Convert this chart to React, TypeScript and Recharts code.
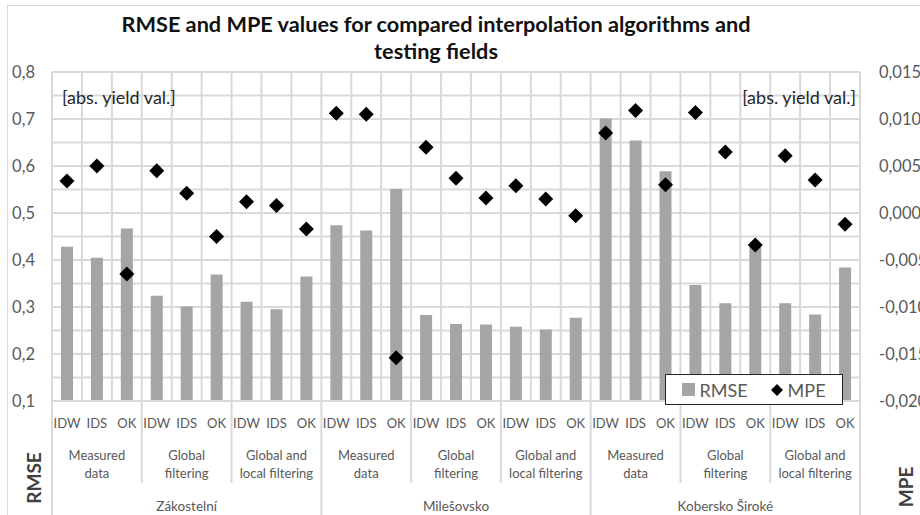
import React from 'react'
import { ComposedChart, Bar, Line, XAxis, YAxis, CartesianGrid, Legend } from 'recharts'

const fields = ['Zákostelní', 'Milešovsko', 'Kobersko Široké']
const filters = [['Measured', 'data'], ['Global', 'filtering'], ['Global and', 'local filtering']]
const methods = ['IDW', 'IDS', 'OK']

const rmse = [
  0.428, 0.405, 0.467, 0.324, 0.301, 0.369, 0.311, 0.295, 0.365,
  0.474, 0.463, 0.551, 0.283, 0.264, 0.263, 0.258, 0.252, 0.277,
  0.701, 0.654, 0.589, 0.347, 0.308, 0.428, 0.308, 0.284, 0.384,
]
const mpe = [
  0.0034, 0.005, -0.0065, 0.0045, 0.0021, -0.0025, 0.0012, 0.0008, -0.0017,
  0.0106, 0.0105, -0.0154, 0.007, 0.0037, 0.0016, 0.0029, 0.0015, -0.0003,
  0.0085, 0.0109, 0.003, 0.0107, 0.0065, -0.0034, 0.0061, 0.0035, -0.0012,
]

// labelled every 0.1, gridlines every 0.05
const rmseTicks = [0.1, 0.15, 0.2, 0.25, 0.3, 0.35, 0.4, 0.45, 0.5, 0.55, 0.6, 0.65, 0.7, 0.75, 0.8]
const mpeTicks = [-0.02, -0.015, -0.01, -0.005, 0, 0.005, 0.01, 0.015]

const data = rmse.map((r, i) => ({
  method: methods[i % 3],
  filter: filters[Math.floor(i / 3) % 3].join(' '),
  field: fields[Math.floor(i / 9)],
  rmse: r,
  mpe: mpe[i],
}))

const W = 920
const H = 515
const PLOT_W = 808
const STEP = PLOT_W / data.length
const FONT = 'Lato, "Open Sans", sans-serif'
const GRID = '#d9d9d9'
const TXT = '#595959'

const MethodTick = (props: any) => {
  const { x, y, index, payload } = props
  const half = STEP / 2
  return (
    <g>
      <text x={x} y={y + 27} textAnchor="middle" fontSize={13} fill={TXT} fontFamily={FONT}>{payload.value}</text>
      {index % 3 === 0 && (
        <line x1={x - half} x2={x - half} y1={y} y2={index % 9 === 0 ? H : y + 82} stroke={GRID} strokeWidth={2} />
      )}
      {index === data.length - 1 && <line x1={x + half} x2={x + half} y1={y} y2={H} stroke={GRID} strokeWidth={2} />}
    </g>
  )
}

const FilterTick = (props: any) => {
  const { x, y, index } = props
  if (index % 3 !== 1) return null
  const lines = filters[Math.floor(index / 3) % 3]
  return (
    <g>
      <text x={x} y={y + 24.5} textAnchor="middle" fontSize={13} fill={TXT} fontFamily={FONT}>{lines[0]}</text>
      <text x={x} y={y + 42.5} textAnchor="middle" fontSize={13} fill={TXT} fontFamily={FONT}>{lines[1]}</text>
    </g>
  )
}

const FieldTick = (props: any) => {
  const { x, y, index, payload } = props
  if (index % 9 !== 4) return null
  return <text x={x} y={y + 28} textAnchor="middle" fontSize={13.5} fill={TXT} fontFamily={FONT}>{payload.value}</text>
}

const Diamond = (props: any) => {
  const { cx, cy, index } = props
  if (cx == null || cy == null) return <g key={index} />
  const r = 7.5
  return <polygon key={index} points={`${cx},${cy - r} ${cx + r},${cy} ${cx},${cy + r} ${cx - r},${cy}`} fill="#000" />
}

const LegendBox = () => (
  <div style={{
    boxSizing: 'border-box', width: 178, height: 31, border: '1.5px solid #262626', background: '#fff',
    display: 'flex', alignItems: 'center', justifyContent: 'center', fontFamily: FONT, fontSize: 18, color: TXT,
  }}>
    <span style={{ display: 'inline-block', width: 13, height: 13, background: '#a5a5a5', marginRight: 4 }} />
    <span>RMSE</span>
    <svg width={14} height={14} style={{ marginLeft: 22, marginRight: 4 }}>
      <polygon points="7,1 13,7 7,13 1,7" fill="#000" />
    </svg>
    <span>MPE</span>
  </div>
)

const isMajor = (v: number) => Math.round(v * 100) % 10 === 0
const noLine = { stroke: 'none' }

export default function App() {
  return (
    <div style={{ position: 'absolute', left: 0, top: 0, width: W, height: H, background: '#fff', overflow: 'hidden' }}>
      <ComposedChart width={W} height={H} data={data} margin={{ top: 72, right: 0, bottom: 0, left: 8 }}>
        <CartesianGrid
          stroke={GRID}
          strokeWidth={2}
          yAxisId="rmse"
          verticalCoordinatesGenerator={({ offset }: any) =>
            data.map((_, i) => offset.left + (i * offset.width) / data.length).concat([offset.left + offset.width])
          }
        />
        <XAxis dataKey="method" interval={0} height={34} tickSize={0} tickMargin={0} axisLine={{ stroke: GRID, strokeWidth: 2 }} tickLine={false} tick={<MethodTick />} />
        <XAxis xAxisId="x2" dataKey="filter" interval={0} height={48} tickSize={0} tickMargin={0} axisLine={noLine} tickLine={false} tick={<FilterTick />} />
        <XAxis xAxisId="x3" dataKey="field" interval={0} height={32} tickSize={0} tickMargin={0} axisLine={noLine} tickLine={false} tick={<FieldTick />} />
        <YAxis
          yAxisId="rmse"
          domain={[0.1, 0.8]}
          ticks={rmseTicks}
          interval={0}
          width={44}
          tickSize={0}
          tickMargin={17}
          axisLine={false}
          tickLine={false}
          tick={{ fill: TXT, fontSize: 16.5, fontFamily: FONT }}
          tickFormatter={(v: number) => (isMajor(v) ? v.toFixed(1).replace('.', ',') : '')}
        />
        <YAxis
          yAxisId="mpe"
          orientation="right"
          domain={[-0.02, 0.015]}
          ticks={mpeTicks}
          interval={0}
          width={60}
          tickSize={0}
          tickMargin={19}
          axisLine={false}
          tickLine={false}
          tick={{ fill: TXT, fontSize: 16.5, fontFamily: FONT }}
          tickFormatter={(v: number) => v.toFixed(3).replace('.', ',')}
        />
        <Bar yAxisId="rmse" dataKey="rmse" name="RMSE" fill="#a5a5a5" barSize={12} isAnimationActive={false} />
        <Line yAxisId="mpe" dataKey="mpe" name="MPE" stroke="none" dot={<Diamond />} activeDot={false} isAnimationActive={false} />
        <Legend verticalAlign="middle" wrapperStyle={{ left: 665, top: 374, width: 178, height: 31 }} content={<LegendBox />} />
      </ComposedChart>
      <svg width={W} height={H} style={{ position: 'absolute', left: 0, top: 0, pointerEvents: 'none' }}>
        <rect x={7.5} y={5.5} width={1000} height={600} fill="none" stroke={GRID} />
        <text x={436} y={32} textAnchor="middle" fontSize={21.7} fontWeight="bold" fill="#111" fontFamily={FONT}>
          RMSE and MPE values for compared interpolation algorithms and
        </text>
        <text x={436} y={59} textAnchor="middle" fontSize={21.7} fontWeight="bold" fill="#111" fontFamily={FONT}>
          testing fields
        </text>
        <text x={62} y={104} fontSize={18} fill="#262626" fontFamily={FONT}>[abs. yield val.]</text>
        <text x={856} y={104} textAnchor="end" fontSize={18} fill="#262626" fontFamily={FONT}>[abs. yield val.]</text>
        <text transform="translate(41,478) rotate(-90)" textAnchor="middle" fontSize={19} fontWeight="bold" fill="#404040" fontFamily={FONT}>RMSE</text>
        <text transform="translate(913,487) rotate(-90)" textAnchor="middle" fontSize={19} fontWeight="bold" fill="#404040" fontFamily={FONT}>MPE</text>
      </svg>
    </div>
  )
}
